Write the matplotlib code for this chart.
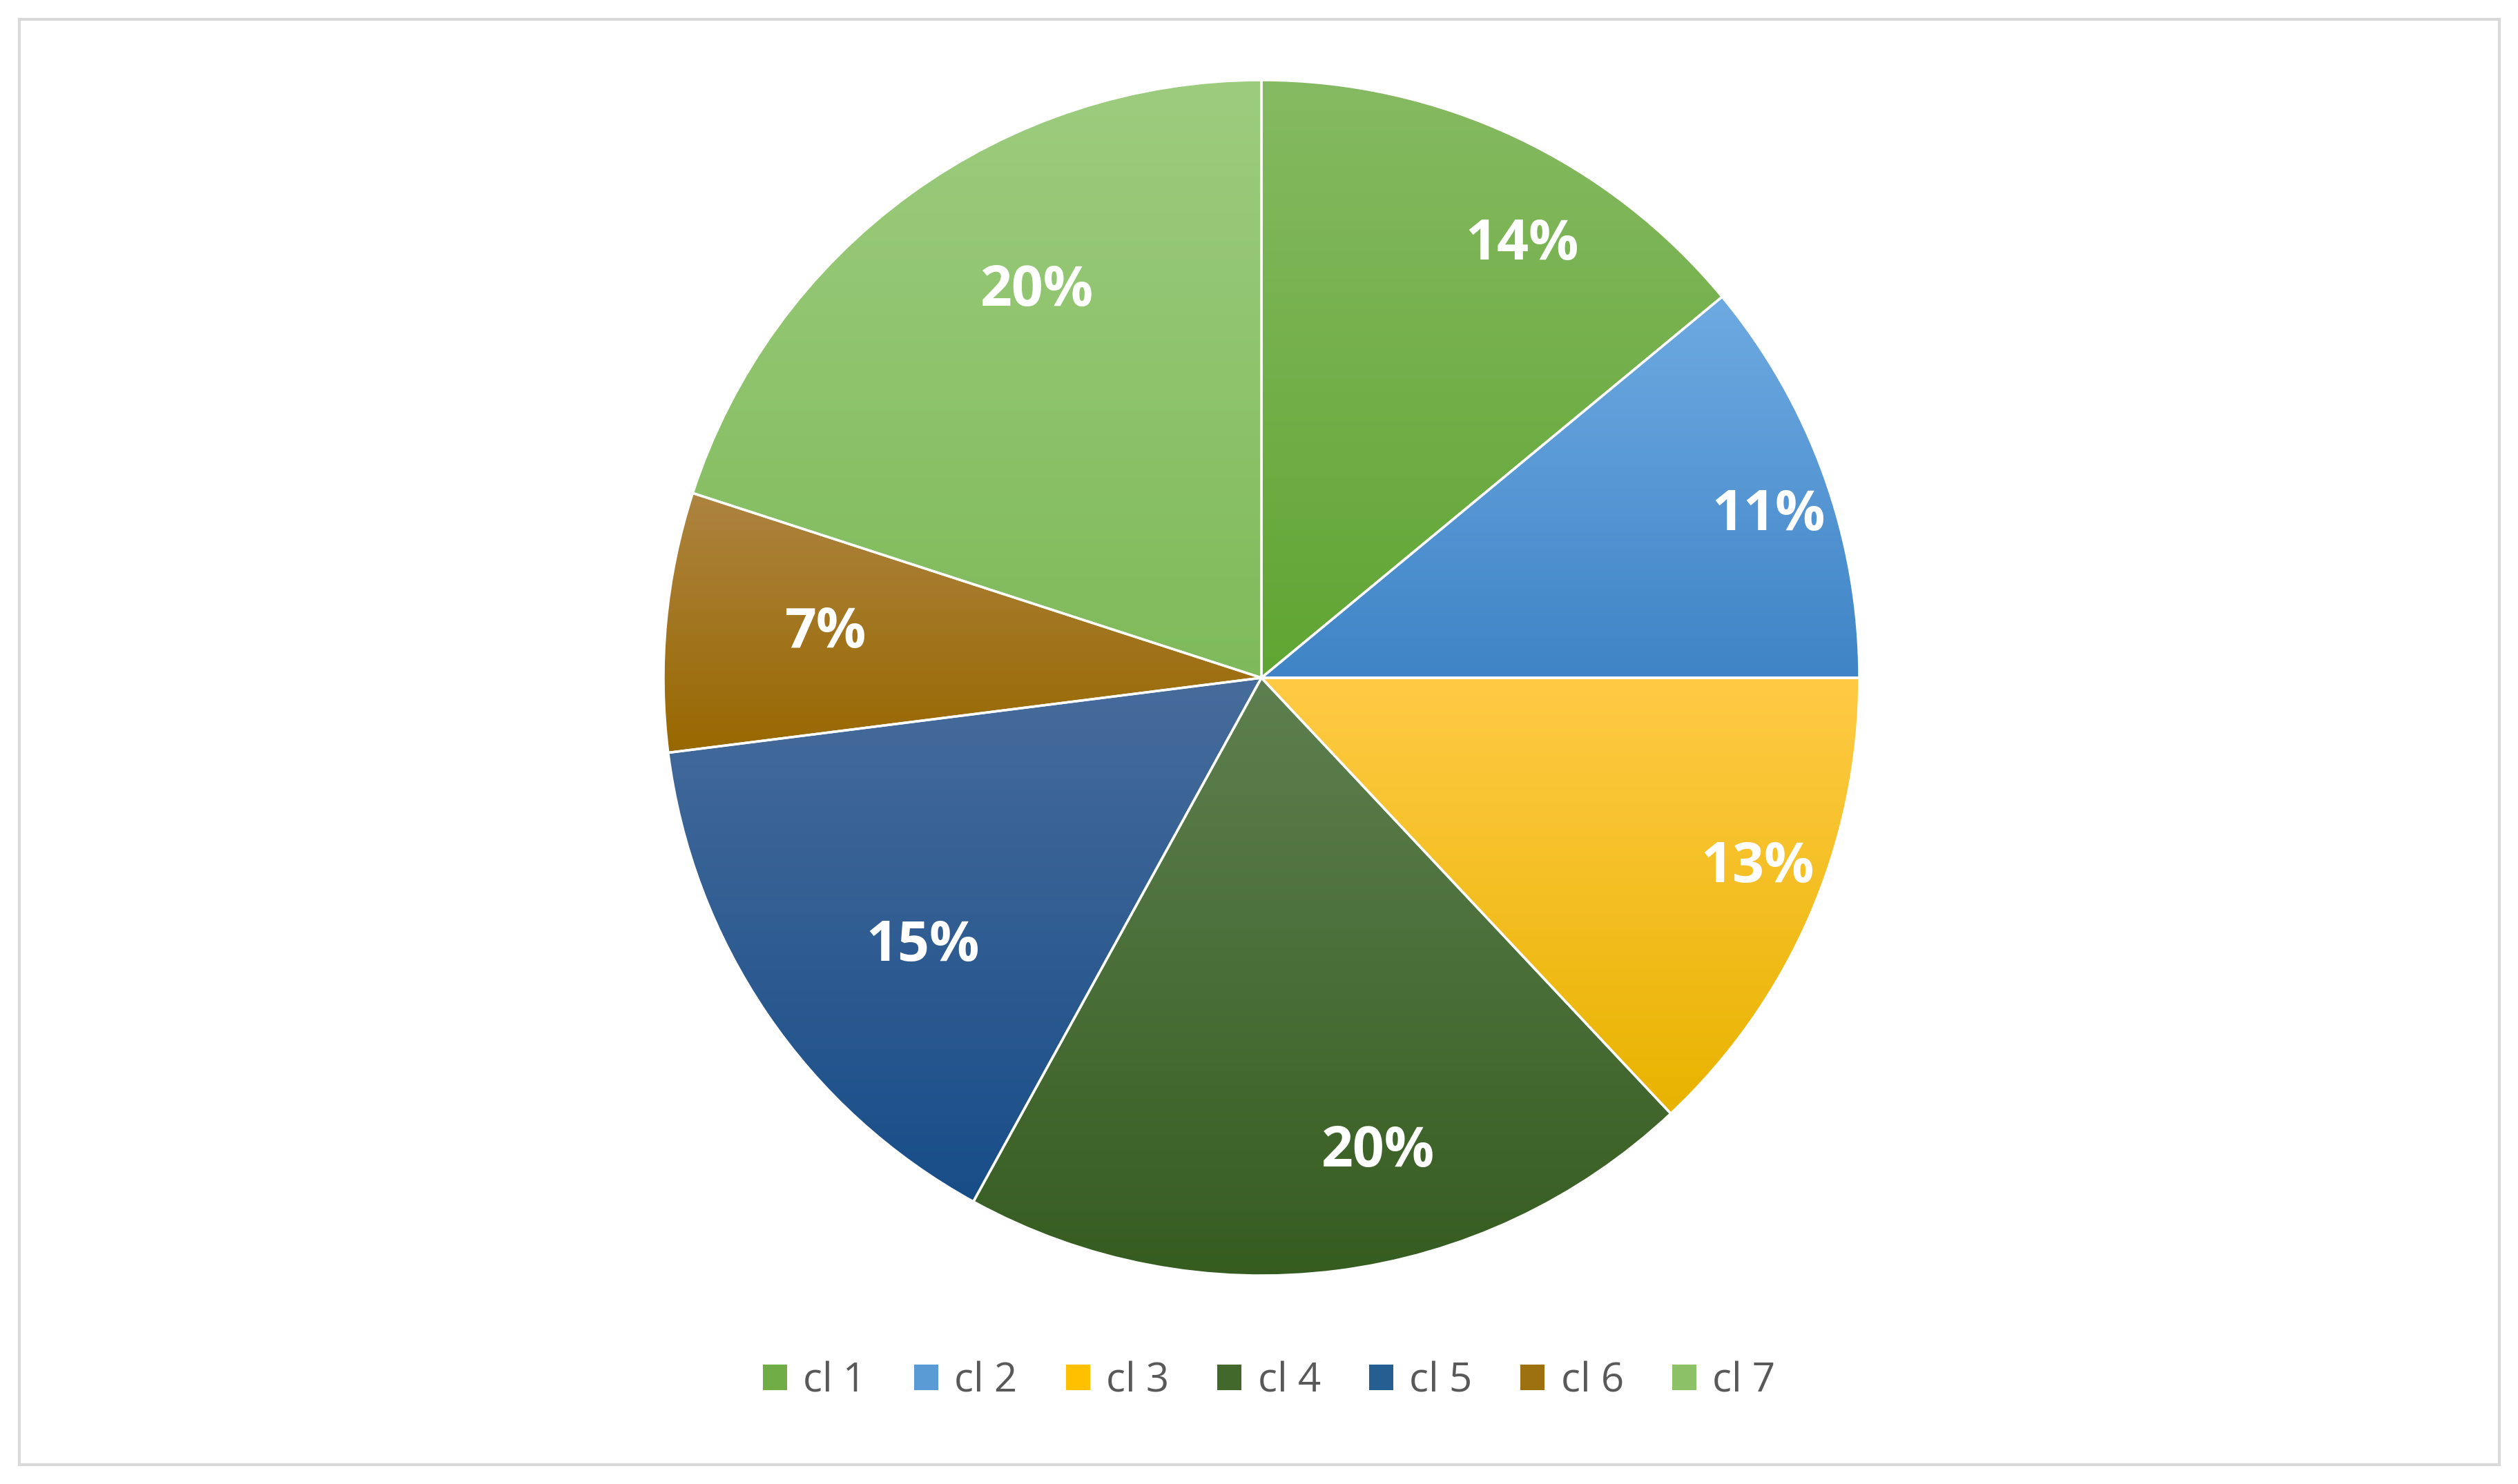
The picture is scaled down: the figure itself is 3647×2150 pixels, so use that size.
import numpy as np
import matplotlib.pyplot as plt
from matplotlib.patches import Patch, Rectangle
from matplotlib.colors import LinearSegmentedColormap

labels = ["cl 1", "cl 2", "cl 3", "cl 4", "cl 5", "cl 6", "cl 7"]
values = [14, 11, 13, 20, 15, 7, 20]
# (top colour, bottom colour) of each slice's vertical gradient
grads = [("#86ba62", "#60a532"), ("#6eaae2", "#3f84c6"), ("#ffcb45", "#e9b300"),
         ("#5e8050", "#355c1f"), ("#476c9c", "#184d88"), ("#ad8440", "#986800"),
         ("#9dcc7e", "#7fba5a")]
mids = ["#70ad47", "#5b9bd5", "#ffc000", "#43682b", "#255e91", "#9e7110", "#8cc168"]

W, H = 3648, 2150
fig = plt.figure(figsize=(W / 100, H / 100), dpi=100)
ax = fig.add_axes([0, 0, 1, 1])
ax.set_xlim(0, W)
ax.set_ylim(0, H)
ax.axis("off")

ax.add_patch(Rectangle((28, 28), W - 56, H - 56, fill=False, edgecolor="#d9d9d9", lw=3))

cx, cy, r = 1827, H - 982, 866
wedges, texts = ax.pie(values, startangle=90, counterclock=False, center=(cx, cy), radius=r,
                       labels=[f"{v}%" for v in values], labeldistance=0.8,
                       wedgeprops=dict(linewidth=2.5, edgecolor="white"),
                       textprops=dict(color="white", fontsize=58, fontweight="bold", family="Open Sans"),
                       frame=True)
ax.set_xlim(0, W)
ax.set_ylim(0, H)
ax.axis("off")

for w, (top, bot) in zip(wedges, grads):
    cmap = LinearSegmentedColormap.from_list("g", [bot, top])
    verts = w.get_path().transformed(w.get_patch_transform()).vertices
    x0, y0 = verts.min(axis=0)
    x1, y1 = verts.max(axis=0)
    grad = np.linspace(0, 1, 256).reshape(-1, 1)
    im = ax.imshow(grad, cmap=cmap, origin="lower", extent=(x0, x1, y0, y1),
                   aspect="auto", zorder=w.get_zorder() - 0.1)
    im.set_clip_path(w)
    w.set_facecolor("none")
for t in texts:
    t.set_zorder(5)

handles = [Patch(facecolor=c, label=l) for c, l in zip(mids, labels)]
ax.legend(handles=handles, loc="center", bbox_to_anchor=(1838, 149), bbox_transform=ax.transData,
          ncol=7, frameon=False, fontsize=42, handlelength=0.6, handleheight=0.6,
          handletextpad=0.4, columnspacing=1.2, labelcolor="#595959",
          prop=dict(family="Open Sans", size=42))

fig.savefig("out.png", dpi=100)
